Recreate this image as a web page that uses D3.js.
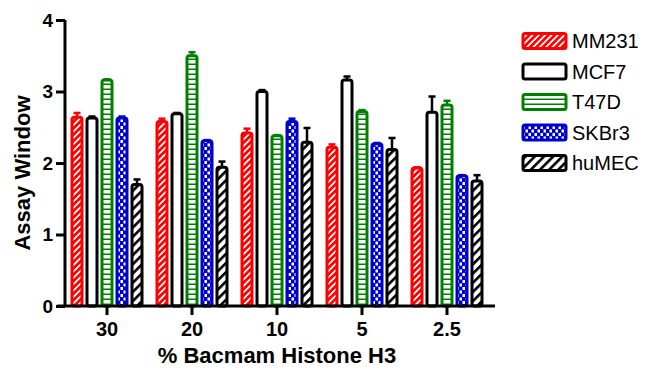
<!DOCTYPE html>
<html><head><meta charset="utf-8">
<script src="https://cdn.jsdelivr.net/npm/d3@7"></script>
<style>html,body{margin:0;padding:0;background:#fff;}svg{display:block;}</style>
</head><body><svg id="chart" width="649" height="373"></svg>
<script>
const categories = ["30", "20", "10", "5", "2.5"];
const seriesNames = ["MM231", "MCF7", "T47D", "SKBr3", "huMEC"];
const mm231 = [2.64, 2.58, 2.42, 2.22, 1.93];
const mm231Err = [0.06, 0.04, 0.06, 0.04, 0.01];
const mcf7 = [2.63, 2.69, 3.00, 3.16, 2.71];
const mcf7Err = [0.02, 0.01, 0.02, 0.05, 0.22];
const t47d = [3.16, 3.50, 2.38, 2.72, 2.81];
const t47dErr = [0.01, 0.05, 0.01, 0.02, 0.06];
const skbr3 = [2.63, 2.31, 2.58, 2.27, 1.82];
const skbr3Err = [0.02, 0.01, 0.04, 0.01, 0.01];
const humec = [1.70, 1.94, 2.29, 2.19, 1.75];
const humecErr = [0.07, 0.08, 0.20, 0.16, 0.08];
const yTicks = [0, 1, 2, 3, 4];

const values = [mm231, mcf7, t47d, skbr3, humec];
const errors = [mm231Err, mcf7Err, t47dErr, skbr3Err, humecErr];
const colors = ["#ff0000", "#000000", "#008000", "#0000cc", "#000000"];
const fills = ["url(#pMM)", "#ffffff", "url(#pT47)", "url(#pSK)", "url(#pHU)"];

const svg = d3.select("#chart");
const defs = svg.append("defs");
let p = defs.append("pattern").attr("id","pMM").attr("patternUnits","userSpaceOnUse")
  .attr("width",4.5).attr("height",4.5).attr("patternTransform","rotate(45)");
p.append("rect").attr("width",4.5).attr("height",4.5).attr("fill","#ff0000");
p.append("rect").attr("width",1.8).attr("height",4.5).attr("fill","#fff");
p = defs.append("pattern").attr("id","pHU").attr("patternUnits","userSpaceOnUse")
  .attr("width",6.5).attr("height",6.5).attr("patternTransform","rotate(45)");
p.append("rect").attr("width",6.5).attr("height",6.5).attr("fill","#fff");
p.append("rect").attr("width",2.6).attr("height",6.5).attr("fill","#000");
p = defs.append("pattern").attr("id","pT47").attr("patternUnits","userSpaceOnUse")
  .attr("width",6).attr("height",5);
p.append("rect").attr("width",6).attr("height",5).attr("fill","#fff");
p.append("rect").attr("y",3.5).attr("width",6).attr("height",1.5).attr("fill","#008000");
p = defs.append("pattern").attr("id","pSK").attr("patternUnits","userSpaceOnUse")
  .attr("width",6).attr("height",7);
p.append("rect").attr("width",6).attr("height",7).attr("fill","#0000cc");
p.append("rect").attr("x",0.5).attr("y",0).attr("width",2.5).attr("height",3).attr("fill","#fff");
p.append("rect").attr("x",3.5).attr("y",3.5).attr("width",2.5).attr("height",3).attr("fill","#fff");

const y = d3.scaleLinear().domain([0, 4]).range([306, 20]);
const x0 = d3.scaleBand().domain(categories).range([64.5, 489.5]).padding(0);
const x1 = d3.scaleBand().domain(seriesNames).range([-37.5, 37.5]).padding(0);
const barW = 10;

const g = svg.append("g");
seriesNames.forEach((s, si) => {
  const grp = g.append("g");
  categories.forEach((c, ci) => {
    const cx = x0(c) + x0.bandwidth()/2 + x1(s) + x1.bandwidth()/2;
    const v = values[si][ci], e = errors[si][ci];
    grp.append("line").attr("x1",cx).attr("x2",cx).attr("y1",y(v)).attr("y2",y(v+e))
      .attr("stroke",colors[si]).attr("stroke-width",2.5);
    grp.append("line").attr("x1",cx-3.5).attr("x2",cx+3.5).attr("y1",y(v+e)).attr("y2",y(v+e))
      .attr("stroke",colors[si]).attr("stroke-width",2.5);
    grp.append("rect").attr("x",cx-barW/2).attr("y",y(v)).attr("width",barW)
      .attr("height",y(0)-y(v)).attr("rx",2.5).attr("ry",2.5)
      .attr("fill",fills[si]).attr("stroke",colors[si]).attr("stroke-width",3);
  });
});

const font = "'Liberation Sans', Arial, sans-serif";
const yAxis = svg.append("g").attr("transform","translate(65,0)")
  .call(d3.axisLeft(y).tickValues(yTicks).tickFormat(d3.format("d")).tickSize(9).tickPadding(3));
yAxis.select(".domain").attr("d", `M0,${y(4)}V${y(0)}`).attr("stroke","#000").attr("stroke-width",3);
yAxis.selectAll(".tick line").attr("stroke","#000").attr("stroke-width",3);
yAxis.selectAll("text").attr("font-family",font).attr("font-weight","bold").attr("font-size",19).attr("fill","#000");

const xAxis = svg.append("g").attr("transform",`translate(0,${y(0)})`)
  .call(d3.axisBottom(x0).tickSize(9).tickPadding(7));
xAxis.select(".domain").attr("d","M57,0H495").attr("stroke","#000").attr("stroke-width",3);
xAxis.selectAll(".tick line").attr("stroke","#000").attr("stroke-width",3);
xAxis.selectAll("text").attr("font-family",font).attr("font-weight","bold").attr("font-size",20).attr("fill","#000");

svg.append("text").attr("transform","translate(30,173) rotate(-90)").attr("text-anchor","middle")
  .attr("font-family",font).attr("font-weight","bold").attr("font-size",22).text("Assay Window");
svg.append("text").attr("x",277).attr("y",363).attr("text-anchor","middle")
  .attr("font-family",font).attr("font-weight","bold").attr("font-size",22).text("% Bacmam Histone H3");

const leg = svg.append("g");
seriesNames.forEach((s, si) => {
  const cy = 41 + si * 30.5;
  leg.append("rect").attr("x",523).attr("y",cy-7.5).attr("width",43).attr("height",15)
    .attr("rx",2).attr("fill",fills[si]).attr("stroke",colors[si]).attr("stroke-width",3);
  leg.append("text").attr("x",572).attr("y",cy).attr("dy","0.35em")
    .attr("font-family",font).attr("font-size",20).attr("fill","#000").text(s);
});
</script></body></html>
